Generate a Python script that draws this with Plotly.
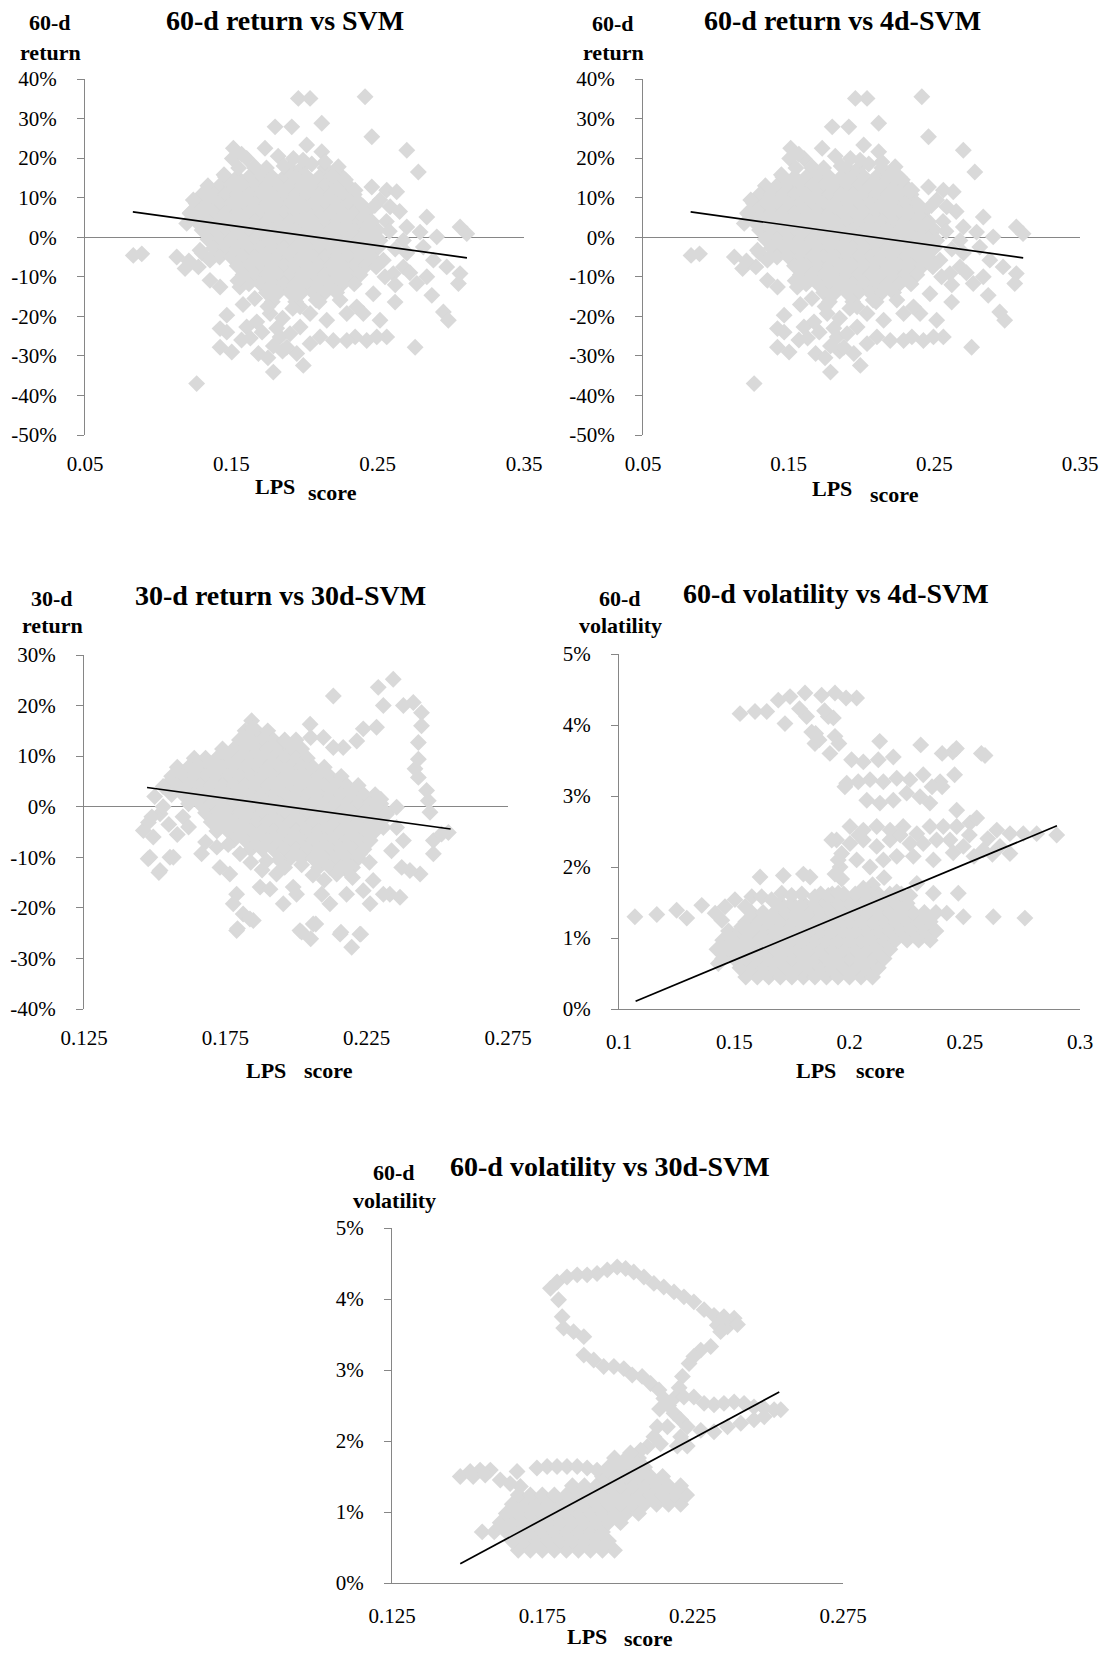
import plotly.graph_objects as go

# reference canvas size (page body margin is removed by a post script)
W, H = 1109, 1659
FONT = "Liberation Serif, Times New Roman, serif"
GRAY = "#868686"
PT = "#D9D9D9"

# ---------------- DATA ----------------
# 60-d return (%) vs LPS score  (used by "vs SVM" and "vs 4d-SVM" panels)
ret60_pts = [
    (0.0830, -4.6), (0.0888, -4.2), (0.1127, -5.0), (0.1184, -7.9), (0.1263, -37.0),
    (0.1514, 22.5), (0.1507, 19.9), (0.1799, 27.9), (0.1730, 22.5), (0.1605, 19.9),
    (0.1469, -19.7), (0.1423, -23.1), (0.1423, -27.8), (0.1503, -29.0), (0.1605, -22.7),
    (0.1674, -21.4), (0.1685, -29.4), (0.1787, -34.1), (0.1765, -19.3), (0.1833, -25.2),
    (0.1787, -27.5), (0.1850, -28.8), (0.1469, -24.0), (0.1423, -12.6), (0.1354, -10.9),
    (0.1275, -7.5), (0.1286, -3.3), (0.1210, -6.0), (0.1559, -12.6), (0.1545, -11.0),
    (0.1300, -4.0), (0.1354, -5.8), (0.1240, 9.4), (0.1218, 6.0), (0.1195, 3.5),
    (0.1958, 35.1), (0.2038, 35.1), (0.2414, 35.5), (0.1913, 27.9), (0.2118, 28.8),
    (0.2460, 25.4), (0.2699, 22.0), (0.2778, 16.5), (0.2015, 23.3), (0.2118, 21.6),
    (0.1924, 19.9), (0.2231, 17.8), (0.2346, 11.9), (0.2460, 12.7), (0.2562, 11.9),
    (0.2630, 11.5), (0.2516, 9.4), (0.2585, 7.7), (0.2402, 7.7), (0.2402, 5.1),
    (0.2448, 3.5), (0.2836, 5.1), (0.2699, 2.6), (0.2790, 1.3), (0.3063, 2.6),
    (0.3109, 0.9), (0.2904, 0.1), (0.2676, -0.8), (0.2516, -0.8), (0.2812, -2.5),
    (0.2881, -5.8), (0.2972, -7.5), (0.3063, -9.2), (0.3052, -11.7), (0.2767, -11.7),
    (0.2836, -10.0), (0.2870, -14.7), (0.2949, -18.9), (0.2983, -21.0), (0.2619, -16.4),
    (0.2756, -27.8), (0.2607, -9.2), (0.2676, -7.5), (0.2539, -5.8), (0.2470, -14.3),
    (0.2402, -19.3), (0.2516, -21.0), (0.2562, -25.2), (0.2494, -25.2), (0.2425, -26.1),
    (0.2346, -25.2), (0.2289, -26.1), (0.2197, -26.1), (0.2106, -25.2), (0.2038, -26.9),
    (0.1992, -32.4), (0.1947, -29.4), (0.1879, -27.8), (0.2152, -21.0), (0.2289, -19.3),
    (0.2357, -17.6), (0.2243, -15.9), (0.2038, -19.3), (0.1970, -22.7), (0.1901, -24.4),
    (0.2080, -15.9), (0.1970, -17.6),
    (0.1630, -25.5), (0.1710, -24.0), (0.1580, -17.0), (0.1660, -15.5), (0.1750, -17.5),
    (0.1850, -20.5), (0.1920, -18.0), (0.1810, -23.0), (0.1750, -30.5), (0.1570, -26.0),
    (0.1570, 21.0), (0.1660, 17.8), (0.1820, 20.5), (0.1860, 18.0), (0.1990, 19.5),
    (0.2050, 18.5), (0.2140, 19.0), (0.2190, 15.5), (0.2280, 14.5), (0.1550, 17.5),
    (0.1450, 15.8), (0.2480, 8.0), (0.2560, 4.0), (0.2620, -3.0), (0.2550, -10.0),
    (0.2620, -12.0), (0.2490, -7.5), (0.2580, 1.5), (0.2650, 6.5), (0.2700, -4.0),
    (0.2720, -9.0),
]
ret60_core_y = [17.5, 15.2, 13.0, 10.8, 8.5, 6.2, 4.0, 1.8, -0.5, -2.7, -5.0, -7.2, -9.5, -11.8, -14.0, -16.3]
ret60_core_x = [
    [0.166, 0.174, 0.190, 0.198, 0.214],
    [0.146, 0.154, 0.162, 0.170, 0.178, 0.186, 0.194, 0.202, 0.210, 0.218, 0.226],
    [0.134, 0.142, 0.150, 0.158, 0.166, 0.174, 0.182, 0.190, 0.198, 0.206, 0.214, 0.222, 0.230],
    [0.130, 0.138, 0.146, 0.154, 0.162, 0.170, 0.178, 0.186, 0.194, 0.202, 0.210, 0.218, 0.226, 0.234],
    [0.126, 0.134, 0.142, 0.150, 0.158, 0.166, 0.174, 0.182, 0.190, 0.198, 0.206, 0.214, 0.222, 0.230, 0.238],
    [0.122, 0.130, 0.138, 0.146, 0.154, 0.162, 0.170, 0.178, 0.186, 0.194, 0.202, 0.210, 0.218, 0.226, 0.234, 0.242],
    [0.126, 0.134, 0.142, 0.150, 0.158, 0.166, 0.174, 0.182, 0.190, 0.198, 0.206, 0.214, 0.222, 0.230, 0.238, 0.246],
    [0.130, 0.138, 0.146, 0.154, 0.162, 0.170, 0.178, 0.186, 0.194, 0.202, 0.210, 0.218, 0.226, 0.234, 0.242, 0.250],
    [0.134, 0.142, 0.150, 0.158, 0.166, 0.174, 0.182, 0.190, 0.198, 0.206, 0.214, 0.222, 0.230, 0.238, 0.246],
    [0.138, 0.146, 0.154, 0.162, 0.170, 0.178, 0.186, 0.194, 0.202, 0.210, 0.218, 0.226, 0.234, 0.242, 0.250],
    [0.142, 0.150, 0.158, 0.166, 0.174, 0.182, 0.190, 0.198, 0.206, 0.214, 0.222, 0.230, 0.238, 0.246],
    [0.154, 0.162, 0.170, 0.178, 0.186, 0.194, 0.202, 0.210, 0.218, 0.226, 0.234, 0.242],
    [0.158, 0.166, 0.174, 0.182, 0.190, 0.198, 0.206, 0.214, 0.222, 0.230, 0.238],
    [0.162, 0.170, 0.178, 0.186, 0.194, 0.202, 0.210, 0.218, 0.226, 0.234],
    [0.174, 0.182, 0.190, 0.198, 0.206, 0.214, 0.222],
    [0.178, 0.194, 0.210],
]
ret60_trend_x = [0.0827, 0.311]
ret60_trend_y = [6.4, -5.2]

# 30-d return (%) vs LPS score
ret30_pts = [
    (0.2344, 25.2), (0.2291, 23.6), (0.2132, 21.9), (0.2309, 20.0), (0.2380, 20.0),
    (0.2415, 20.6), (0.2444, 18.6), (0.2444, 16.0), (0.2433, 12.7), (0.2433, 9.4),
    (0.2421, 7.5), (0.2433, 5.8), (0.2462, 3.2), (0.2468, 1.2), (0.2474, -1.1),
    (0.2486, -6.7), (0.2515, -5.4), (0.2539, -5.1), (0.2486, -9.3), (0.2439, -13.3),
    (0.2403, -12.6), (0.2374, -12.0), (0.2380, -6.7), (0.2356, -4.1), (0.2356, -0.1),
    (0.2338, -8.7), (0.2368, -17.9), (0.2332, -17.3), (0.2285, 15.7), (0.2238, 15.4),
    (0.2215, 13.0), (0.2167, 11.7), (0.2132, 11.7), (0.2097, 13.7), (0.2050, 16.3),
    (0.2052, 13.7), (0.1961, 13.0), (0.1843, 17.0),
    (0.1666, -9.3), (0.1519, -12.6), (0.1554, -10.0), (0.1483, -10.0), (0.1460, -4.7),
    (0.1478, -3.1), (0.1495, -6.0), (0.1519, -1.4), (0.1530, 0.0), (0.1566, -10.0),
    (0.1731, -12.0), (0.1766, -13.3), (0.1802, -9.3), (0.1790, -17.3), (0.1778, -19.2),
    (0.1813, -21.2), (0.1790, -24.5), (0.1849, -22.5), (0.1873, -15.9), (0.1908, -16.3),
    (0.1896, -10.7), (0.1931, -13.3), (0.1955, -19.2), (0.1990, -15.9), (0.2002, -17.3),
    (0.2014, -24.5), (0.2061, -23.2), (0.2091, -17.3), (0.2120, -19.2), (0.2156, -25.2),
    (0.2226, -25.2), (0.2179, -17.3), (0.2238, -16.6), (0.2273, -14.6), (0.2309, -17.3),
    (0.2262, -19.2), (0.2179, -12.6), (0.2144, -13.3), (0.2226, -9.3), (0.2262, -6.7),
    (0.2309, -4.1), (0.2285, 0.0), (0.2197, -27.8), (0.2229, -25.2), (0.2159, -24.8),
    (0.2052, -26.1), (0.2020, -24.8), (0.2070, -23.2), (0.1793, -24.1), (0.1837, -22.2),
    (0.1477, -10.3), (0.1515, -13.0),
    (0.1500, 2.0), (0.1530, 4.0), (0.1490, -2.0), (0.1550, -3.5), (0.1600, -2.0),
    (0.1580, -5.5), (0.1620, -4.0), (0.1680, -7.0), (0.1720, -8.0), (0.1760, -7.5),
    (0.1840, -11.0), (0.1880, -12.5), (0.1940, -10.5), (0.1960, -12.0), (0.2020, -11.5),
    (0.2060, -13.5), (0.2100, -14.5), (0.2200, -14.0), (0.2260, -11.0), (0.2300, 1.5),
    (0.2320, -1.5), (0.1845, 15.5),
]
ret30_core_y = [15.0, 13.2, 11.4, 9.6, 7.8, 6.0, 4.2, 2.4, 0.6, -1.2, -3.0, -4.8, -6.6, -8.4, -10.2, -12.0]
ret30_core_x = [
    [0.182, 0.186, 0.190],
    [0.180, 0.184, 0.188, 0.192, 0.196, 0.200],
    [0.174, 0.178, 0.182, 0.186, 0.190, 0.194, 0.198, 0.202],
    [0.164, 0.168, 0.172, 0.176, 0.180, 0.184, 0.188, 0.192, 0.196, 0.200, 0.204],
    [0.158, 0.162, 0.166, 0.170, 0.174, 0.178, 0.182, 0.186, 0.190, 0.194, 0.198, 0.202, 0.206, 0.210],
    [0.156, 0.160, 0.164, 0.168, 0.172, 0.176, 0.180, 0.184, 0.188, 0.192, 0.196, 0.200, 0.204, 0.208, 0.212, 0.216],
    [0.154, 0.158, 0.162, 0.166, 0.170, 0.174, 0.178, 0.182, 0.186, 0.190, 0.194, 0.198, 0.202, 0.206, 0.210, 0.214, 0.218, 0.222],
    [0.156, 0.160, 0.164, 0.168, 0.172, 0.176, 0.180, 0.184, 0.188, 0.192, 0.196, 0.200, 0.204, 0.208, 0.212, 0.216, 0.220, 0.224, 0.228],
    [0.162, 0.166, 0.170, 0.174, 0.178, 0.182, 0.186, 0.190, 0.194, 0.198, 0.202, 0.206, 0.210, 0.214, 0.218, 0.222, 0.226, 0.230],
    [0.168, 0.172, 0.176, 0.180, 0.184, 0.188, 0.192, 0.196, 0.200, 0.204, 0.208, 0.212, 0.216, 0.220, 0.224, 0.228, 0.232],
    [0.170, 0.174, 0.178, 0.182, 0.186, 0.190, 0.194, 0.198, 0.202, 0.206, 0.210, 0.214, 0.218, 0.222, 0.226, 0.230],
    [0.172, 0.176, 0.180, 0.184, 0.188, 0.192, 0.196, 0.200, 0.204, 0.208, 0.212, 0.216, 0.220, 0.224, 0.228],
    [0.178, 0.182, 0.186, 0.190, 0.194, 0.198, 0.202, 0.206, 0.210, 0.214, 0.218, 0.222, 0.226],
    [0.184, 0.188, 0.192, 0.196, 0.200, 0.204, 0.208, 0.212, 0.216, 0.220, 0.224],
    [0.198, 0.202, 0.206, 0.210, 0.214, 0.218, 0.222],
    [0.208, 0.212, 0.216, 0.220],
]
ret30_trend_x = [0.1473, 0.2547]
ret30_trend_y = [3.8, -4.4]

# 60-d volatility (%) vs LPS score (4d-SVM)
vol4_pts = [
    (0.1525, 4.16), (0.1590, 4.19), (0.1641, 4.19), (0.1691, 4.35), (0.1742, 4.40),
    (0.1807, 4.45), (0.1879, 4.42), (0.1937, 4.45), (0.1720, 4.02), (0.1814, 4.12),
    (0.1836, 3.90), (0.1908, 4.12), (0.1850, 3.74), (0.1915, 3.60), (0.1937, 3.84),
    (0.2031, 4.38), (0.1783, 4.23), (0.1853, 3.88), (0.1868, 3.79), (0.1892, 4.20),
    (0.1930, 4.10), (0.1954, 3.74), (0.1985, 4.38),
    (0.2131, 3.77), (0.2309, 3.72), (0.2448, 3.62), (0.2464, 3.67), (0.2402, 3.60),
    (0.2572, 3.60), (0.2588, 3.57), (0.2456, 3.30), (0.2009, 3.51), (0.2060, 3.48),
    (0.2125, 3.51), (0.2190, 3.55), (0.1988, 3.18), (0.2038, 3.20), (0.2089, 3.23),
    (0.2147, 3.20), (0.2205, 3.25), (0.2262, 3.23), (0.2320, 3.30), (0.2393, 3.20),
    (0.2075, 2.94), (0.2132, 2.90), (0.2190, 2.94), (0.2248, 3.04), (0.2306, 2.99),
    (0.2349, 2.90), (0.2465, 2.80), (0.2358, 3.13), (0.2402, 3.13), (0.1980, 3.13),
    (0.2002, 2.57), (0.2060, 2.52), (0.2118, 2.57), (0.2176, 2.52), (0.2233, 2.57),
    (0.2292, 2.47), (0.2349, 2.57), (0.2407, 2.57), (0.2465, 2.57), (0.2523, 2.62),
    (0.2552, 2.69), (0.2639, 2.52), (0.2696, 2.47), (0.2754, 2.47), (0.2812, 2.47),
    (0.2899, 2.45), (0.1944, 2.38), (0.2002, 2.33), (0.2060, 2.38), (0.2118, 2.29),
    (0.2176, 2.38), (0.2262, 2.33), (0.2320, 2.33), (0.2378, 2.38), (0.2436, 2.38),
    (0.2494, 2.29), (0.2580, 2.24), (0.2653, 2.29), (0.2696, 2.19), (0.1959, 2.00),
    (0.2031, 2.10), (0.2089, 2.00), (0.2147, 2.10), (0.2205, 2.15), (0.2277, 2.15),
    (0.2364, 2.10), (0.1923, 2.38), (0.1966, 2.19), (0.1951, 2.10), (0.2220, 2.45),
    (0.2040, 2.45), (0.2520, 2.45), (0.2600, 2.40), (0.2450, 2.20), (0.2540, 2.15),
    (0.2620, 2.18),
    (0.1069, 1.30), (0.1164, 1.33), (0.1250, 1.39), (0.1294, 1.28), (0.1359, 1.46),
    (0.1417, 1.35), (0.1460, 1.44), (0.1446, 1.25), (0.1503, 1.54), (0.1547, 1.44),
    (0.1576, 1.58), (0.1619, 1.58), (0.1662, 1.54), (0.1706, 1.63), (0.1749, 1.60),
    (0.1793, 1.62), (0.1850, 1.58), (0.1908, 1.60), (0.1951, 1.63), (0.1612, 1.86),
    (0.1713, 1.88), (0.1800, 1.90), (0.1829, 1.86), (0.1937, 1.90), (0.1966, 1.83),
    (0.2364, 1.63), (0.2472, 1.63), (0.2422, 1.35), (0.2494, 1.30), (0.2624, 1.30),
    (0.2761, 1.28), (0.2292, 1.77), (0.2262, 1.60), (0.2205, 1.65), (0.2100, 1.75),
    (0.2150, 1.85), (0.2060, 1.70),
    (0.1460, 0.88), (0.1431, 0.64), (0.1490, 0.98), (0.1532, 1.16), (0.1576, 1.11),
]
vol4_core_y = [0.45, 0.58, 0.71, 0.84, 0.97, 1.10, 1.23, 1.36, 1.49, 1.62]
vol4_core_x = [
    [0.155, 0.160, 0.165, 0.170, 0.175, 0.180, 0.185, 0.190, 0.195, 0.200, 0.205, 0.210],
    [0.1525, 0.1575, 0.1625, 0.1675, 0.1725, 0.1775, 0.1825, 0.1875, 0.1925, 0.1975, 0.2025, 0.2075, 0.2125],
    [0.145, 0.150, 0.155, 0.160, 0.165, 0.170, 0.175, 0.180, 0.185, 0.190, 0.195, 0.200, 0.205, 0.210, 0.215],
    [0.1425, 0.1475, 0.1525, 0.1575, 0.1625, 0.1675, 0.1725, 0.1775, 0.1825, 0.1875, 0.1925, 0.1975, 0.2025, 0.2075, 0.2125, 0.2175],
    [0.145, 0.150, 0.155, 0.160, 0.165, 0.170, 0.175, 0.180, 0.185, 0.190, 0.195, 0.200, 0.205, 0.210, 0.215, 0.220, 0.225, 0.230, 0.235],
    [0.1475, 0.1525, 0.1575, 0.1625, 0.1675, 0.1725, 0.1775, 0.1825, 0.1875, 0.1925, 0.1975, 0.2025, 0.2075, 0.2125, 0.2175, 0.2225, 0.2275, 0.2325, 0.2375],
    [0.155, 0.160, 0.165, 0.170, 0.175, 0.180, 0.185, 0.190, 0.195, 0.200, 0.205, 0.210, 0.215, 0.220, 0.225, 0.230, 0.235],
    [0.1575, 0.1625, 0.1675, 0.1725, 0.1775, 0.1825, 0.1875, 0.1925, 0.1975, 0.2025, 0.2075, 0.2125, 0.2175, 0.2225, 0.2275, 0.2325, 0.2375],
    [0.170, 0.175, 0.180, 0.185, 0.190, 0.195, 0.200, 0.205, 0.210, 0.215, 0.220, 0.225],
    [0.1875, 0.1925, 0.1975, 0.2025, 0.2075, 0.2125, 0.2175, 0.2225],
]
vol4_trend_x = [0.1072, 0.2900]
vol4_trend_y = [0.11, 2.58]

# 60-d volatility (%) vs LPS score (30d-SVM)
vol30_pts = [
    (0.1777, 4.15), (0.1804, 3.99), (0.1799, 4.24), (0.1832, 4.31), (0.1866, 4.34),
    (0.1899, 4.34), (0.1932, 4.36), (0.1966, 4.41), (0.1999, 4.45), (0.2027, 4.43),
    (0.2054, 4.38), (0.2088, 4.31), (0.2121, 4.22), (0.2154, 4.17), (0.2188, 4.10),
    (0.2221, 4.03), (0.2254, 3.96), (0.2288, 3.85), (0.2321, 3.77), (0.2354, 3.75),
    (0.2388, 3.73), (0.2366, 3.61), (0.2332, 3.63), (0.2343, 3.54), (0.2399, 3.64),
    (0.2310, 3.33), (0.2277, 3.28), (0.2254, 3.19), (0.2238, 3.09), (0.2216, 2.91),
    (0.2205, 2.75), (0.1816, 3.75), (0.1821, 3.59), (0.1854, 3.54), (0.1888, 3.47),
    (0.1888, 3.21), (0.1921, 3.14), (0.1954, 3.05), (0.1988, 3.05), (0.2021, 3.02),
    (0.2049, 2.93), (0.2082, 2.91), (0.2110, 2.81), (0.2138, 2.72), (0.2154, 2.60),
    (0.2188, 2.60), (0.2221, 2.62), (0.2254, 2.62), (0.2288, 2.53), (0.2321, 2.51),
    (0.2354, 2.53), (0.2388, 2.55), (0.2421, 2.53), (0.2454, 2.48), (0.2488, 2.46),
    (0.2521, 2.44), (0.2543, 2.44), (0.2277, 2.15), (0.2321, 2.13), (0.2366, 2.20),
    (0.2410, 2.25), (0.2454, 2.30), (0.2488, 2.34), (0.2188, 2.39), (0.2210, 2.30),
    (0.2232, 2.20), (0.2132, 2.20), (0.2121, 2.06), (0.2099, 1.92), (0.2077, 1.87),
    (0.2043, 1.83), (0.2143, 1.96), (0.2199, 1.93), (0.2232, 1.93), (0.2210, 2.06),
    (0.2166, 2.20), (0.2140, 2.45), (0.2170, 2.50),
    (0.1477, 1.50), (0.1510, 1.57), (0.1543, 1.59), (0.1577, 1.59), (0.1610, 1.45),
    (0.1643, 1.40), (0.1666, 1.57), (0.1677, 1.36), (0.1732, 1.62), (0.1766, 1.64),
    (0.1799, 1.64), (0.1832, 1.64), (0.1866, 1.64), (0.1899, 1.62), (0.1932, 1.59),
    (0.1966, 1.59), (0.1520, 1.50), (0.1560, 1.52),
]
vol30_core_y = [0.46, 0.59, 0.72, 0.85, 0.98, 1.11, 1.24, 1.37, 1.50, 1.63, 1.76]
vol30_core_x = [
    [0.167, 0.171, 0.175, 0.179, 0.183, 0.187, 0.191, 0.195, 0.199],
    [0.165, 0.169, 0.173, 0.177, 0.181, 0.185, 0.189, 0.193, 0.197],
    [0.155, 0.159, 0.163, 0.167, 0.171, 0.175, 0.179, 0.183, 0.187, 0.191, 0.195],
    [0.161, 0.165, 0.169, 0.173, 0.177, 0.181, 0.185, 0.189, 0.193, 0.197, 0.201],
    [0.163, 0.167, 0.171, 0.175, 0.179, 0.183, 0.187, 0.191, 0.195, 0.199, 0.203, 0.207],
    [0.165, 0.169, 0.173, 0.177, 0.181, 0.185, 0.189, 0.193, 0.197, 0.201, 0.205, 0.209, 0.213, 0.217, 0.221],
    [0.167, 0.171, 0.175, 0.179, 0.183, 0.187, 0.191, 0.195, 0.199, 0.203, 0.207, 0.211, 0.215, 0.219, 0.223],
    [0.185, 0.189, 0.193, 0.197, 0.201, 0.205, 0.209, 0.213, 0.217, 0.221],
    [0.195, 0.199, 0.203, 0.207, 0.211, 0.215],
    [0.197, 0.201, 0.205, 0.209],
    [0.199, 0.203, 0.207],
]
vol30_trend_x = [0.1477, 0.2538]
vol30_trend_y = [0.27, 2.69]

# tick labels
ret60_xticks = [0.05, 0.15, 0.25, 0.35]
ret60_xlabels = ["0.05", "0.15", "0.25", "0.35"]
ret60_yticks = [40, 30, 20, 10, 0, -10, -20, -30, -40, -50]
ret30_xticks = [0.125, 0.175, 0.225, 0.275]
ret30_xlabels = ["0.125", "0.175", "0.225", "0.275"]
ret30_yticks = [30, 20, 10, 0, -10, -20, -30, -40]
vol4_xticks = [0.1, 0.15, 0.2, 0.25, 0.3]
vol4_xlabels = ["0.1", "0.15", "0.2", "0.25", "0.3"]
vol_yticks = [5, 4, 3, 2, 1, 0]

titles = ["60-d return vs SVM", "60-d return vs 4d-SVM", "30-d return vs 30d-SVM",
          "60-d volatility vs 4d-SVM", "60-d volatility vs 30d-SVM"]


# ---------------- helpers ----------------
def unzip(pts):
    return [p[0] for p in pts], [p[1] for p in pts]


def expand(rows_y, rows_x):
    xs, ys = [], []
    for yv, row in zip(rows_y, rows_x):
        xs.extend(row)
        ys.extend([yv] * len(row))
    return xs, ys


def px2x(px):
    return px / W


def px2y(py):
    return 1 - py / H


fig = go.Figure()

panels = [
    dict(pts=ret60_pts, cy=ret60_core_y, cx=ret60_core_x, tx=ret60_trend_x, ty=ret60_trend_y,
         box=(85, 524, 79, 435), xr=[0.05, 0.35], xt=ret60_xticks, xl=ret60_xlabels,
         yr=[-50, 40], yt=ret60_yticks, ret=True),
    dict(pts=ret60_pts, cy=ret60_core_y, cx=ret60_core_x, tx=ret60_trend_x, ty=ret60_trend_y,
         box=(643, 1080, 79, 435), xr=[0.05, 0.35], xt=ret60_xticks, xl=ret60_xlabels,
         yr=[-50, 40], yt=ret60_yticks, ret=True),
    dict(pts=ret30_pts, cy=ret30_core_y, cx=ret30_core_x, tx=ret30_trend_x, ty=ret30_trend_y,
         box=(84, 508, 655, 1009), xr=[0.125, 0.275], xt=ret30_xticks, xl=ret30_xlabels,
         yr=[-40, 30], yt=ret30_yticks, ret=True),
    dict(pts=vol4_pts, cy=vol4_core_y, cx=vol4_core_x, tx=vol4_trend_x, ty=vol4_trend_y,
         box=(619, 1080, 654, 1009), xr=[0.1, 0.3], xt=vol4_xticks, xl=vol4_xlabels,
         yr=[0, 5], yt=vol_yticks, ret=False),
    dict(pts=vol30_pts, cy=vol30_core_y, cx=vol30_core_x, tx=vol30_trend_x, ty=vol30_trend_y,
         box=(392, 843, 1228, 1583), xr=[0.125, 0.275], xt=ret30_xticks, xl=ret30_xlabels,
         yr=[0, 5], yt=vol_yticks, ret=False),
]

layout = {}
for i, p in enumerate(panels, start=1):
    sx = "" if i == 1 else str(i)
    ox, oy = unzip(p["pts"])
    cx, cy = expand(p["cy"], p["cx"])
    fig.add_trace(go.Scatter(
        x=cx + ox, y=cy + oy, mode="markers", xaxis="x" + sx, yaxis="y" + sx,
        marker=dict(symbol="diamond", size=13, color=PT, line=dict(width=0)),
        hoverinfo="skip", showlegend=False))
    fig.add_trace(go.Scatter(
        x=p["tx"], y=p["ty"], mode="lines", xaxis="x" + sx, yaxis="y" + sx,
        line=dict(color="black", width=1.7), hoverinfo="skip", showlegend=False))
    l, r, t, b = p["box"]
    layout["xaxis" + sx] = dict(
        domain=[px2x(l), px2x(r)], range=p["xr"], anchor="y" + sx, automargin=False,
        tickmode="array", tickvals=p["xt"], ticktext=p["xl"],
        showgrid=False, zeroline=False, ticks="",
        showline=not p["ret"], linecolor=GRAY, linewidth=1,
        tickfont=dict(family=FONT, size=21, color="black"),
        ticklabelstandoff=14, fixedrange=True)
    layout["yaxis" + sx] = dict(
        domain=[px2y(b), px2y(t)], range=p["yr"], anchor="x" + sx, automargin=False,
        tickmode="array", tickvals=p["yt"], ticktext=[f"{v}%" for v in p["yt"]],
        showgrid=False, zeroline=p["ret"], zerolinecolor=GRAY, zerolinewidth=1,
        showline=True, linecolor=GRAY, linewidth=1,
        ticks="outside", ticklen=7, tickcolor=GRAY, tickwidth=1,
        tickfont=dict(family=FONT, size=21, color="black"),
        ticklabelstandoff=16, fixedrange=True)

ann = []


def add_text(txt, px, py, size, bold=True):
    ann.append(dict(text=f"<b>{txt}</b>" if bold else txt, x=px2x(px), y=px2y(py),
                    xref="paper", yref="paper", showarrow=False,
                    xanchor="center", yanchor="middle",
                    font=dict(family=FONT, size=size, color="black")))


# titles
add_text(titles[0], 285, 21, 28)
add_text(titles[1], 842, 21, 28)
add_text(titles[2], 280, 595, 28)
add_text(titles[3], 836, 593, 28)
add_text(titles[4], 610, 1166, 28)
# y-axis titles
for (a, b_, cx_, y1, y2) in [("60-d", "return", 50, 22, 52), ("60-d", "return", 613, 23, 52),
                             ("30-d", "return", 52, 598, 625), ("60-d", "volatility", 620, 598, 625),
                             ("60-d", "volatility", 394, 1172, 1200)]:
    add_text(a, cx_, y1, 22)
    add_text(b_, cx_, y2, 22)
# x-axis titles
for (lx, ly, sx_, sy) in [(275, 486, 332, 492), (832, 488, 894, 495), (266, 1070, 328, 1070),
                          (816, 1070, 880, 1070), (587, 1636, 648, 1638)]:
    add_text("LPS", lx, ly, 22)
    add_text("score", sx_, sy, 22)

fig.update_layout(
    template="none",
    width=W, height=H, margin=dict(l=0, r=0, t=0, b=0, pad=0),
    paper_bgcolor="white", plot_bgcolor="white", hovermode=False,
    showlegend=False, annotations=ann, **layout)

fig.write_html(
    "out.html",
    config={"displayModeBar": False, "staticPlot": True},
    post_script="document.body.style.margin='0px'; document.body.style.overflow='hidden';")
